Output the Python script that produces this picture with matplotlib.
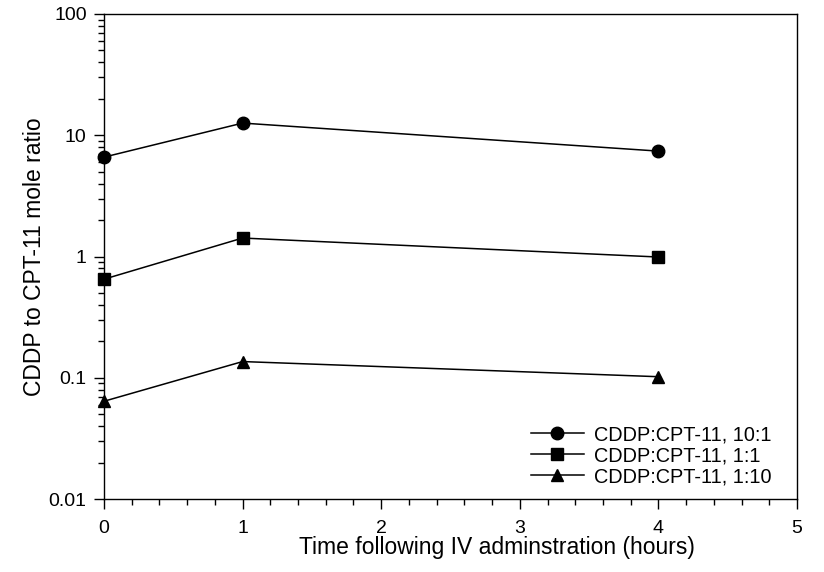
import numpy as np
import matplotlib
matplotlib.use('Agg')
import matplotlib.pyplot as plt
from matplotlib.ticker import LogLocator, MultipleLocator, FixedLocator

plt.rcParams['font.family'] = ['Liberation Sans', 'DejaVu Sans']

hours = [0, 1, 4]
ratio_10_1 = [6.6, 12.6, 7.4]
ratio_1_1 = [0.65, 1.42, 0.99]
ratio_1_10 = [0.064, 0.136, 0.102]
labels = ['CDDP:CPT-11, 10:1', 'CDDP:CPT-11, 1:1', 'CDDP:CPT-11, 1:10']
ytick_labels = ['0.01', '0.1', '1', '10', '100']

fig = plt.figure(figsize=(8.24, 5.72), dpi=100)
ax = fig.add_axes([104 / 824, 1 - 499 / 572, 693 / 824, 485 / 572])

ax.plot(hours, ratio_10_1, 'k-', marker='o', ms=9, lw=1.1, label=labels[0], clip_on=False)
ax.plot(hours, ratio_1_1, 'k-', marker='s', ms=8, lw=1.1, label=labels[1], clip_on=False)
ax.plot(hours, ratio_1_10, 'k-', marker='^', ms=9, lw=1.1, label=labels[2], clip_on=False)

ax.set_yscale('log')
ax.set_ylim(0.01, 100)
ax.set_xlim(0, 5)
ax.yaxis.set_major_locator(FixedLocator([0.01, 0.1, 1, 10, 100]))
ax.set_yticklabels(ytick_labels)
ax.yaxis.set_minor_locator(LogLocator(base=10, subs=np.arange(2, 10)))
ax.yaxis.set_minor_formatter(plt.NullFormatter())
ax.xaxis.set_major_locator(MultipleLocator(1))
ax.xaxis.set_minor_locator(MultipleLocator(0.2))

ax.tick_params(which='major', direction='out', length=7, width=1, labelsize=14, colors='black')
ax.tick_params(axis='y', which='major', pad=5.5)
ax.tick_params(axis='x', which='major', pad=8)
ax.tick_params(which='minor', direction='out', length=4.5, width=1)
ax.tick_params(top=False, right=False, which='both')
for s in ax.spines.values():
    s.set_linewidth(1)

ax.set_xlabel('Time following IV adminstration (hours)', fontsize=16.5)
ax.set_ylabel('CDDP to CPT-11 mole ratio', fontsize=16.5)
ax.xaxis.set_label_coords((497 - 104) / 693, -(536 - 499) / 485)
ax.yaxis.set_label_coords(-(104 - 46) / 693, 0.5)

ax.legend(loc='lower right', frameon=False, fontsize=14.3, handlelength=2.7,
          handletextpad=0.5, labelspacing=0.1, borderaxespad=0,
          bbox_to_anchor=(0.975, 0.01))

fig.savefig('out.png', dpi=100)
